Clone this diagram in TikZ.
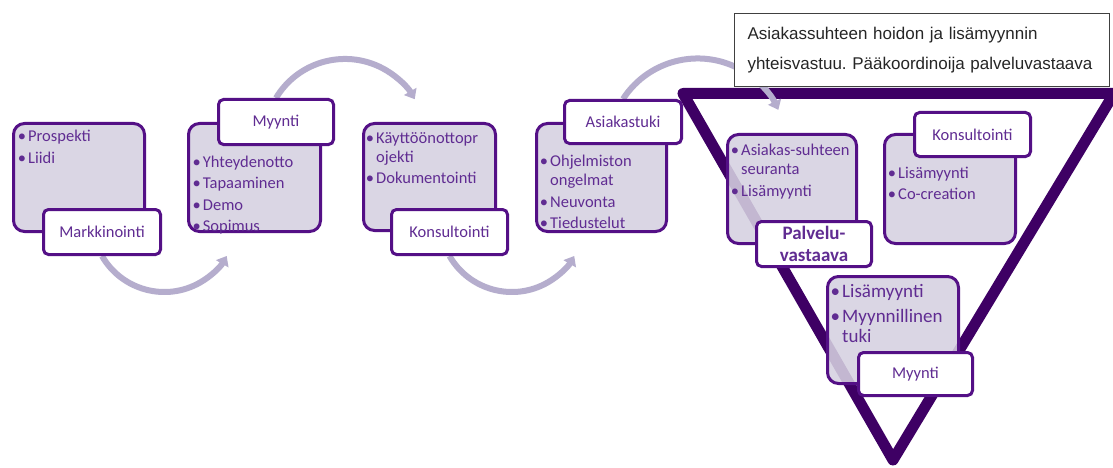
\documentclass[tikz,border=0pt]{standalone}
\usepackage{fontspec}
\setmainfont{Carlito}
\newfontfamily\calloutfont{Liberation Sans}
\usetikzlibrary{arrows.meta,backgrounds}

\definecolor{boxfill}{RGB}{214,209,225}
\definecolor{boxline}{RGB}{84,16,134}
\definecolor{boxtext}{RGB}{96,44,146}
\definecolor{arcline}{RGB}{181,173,205}
\definecolor{funnel}{RGB}{62,0,100}

\newcommand{\itm}[1]{\llap{\textbullet\kern2pt}#1}
\frenchspacing

\tikzset{
  itembox/.style={draw=boxline, line width=3pt, fill=boxfill, fill opacity=0.88,
    draw opacity=1, rounded corners=11pt, inner sep=0pt},
  titlebox/.style={draw=boxline, line width=3pt, fill=white, rounded corners=5pt,
    inner sep=0pt, text=boxtext, font=\fontsize{16.5}{19}\selectfont},
  itemtext/.style={anchor=base west, align=left, inner sep=0pt, text=boxtext,
    font=\fontsize{16.5}{19}\selectfont},
  kierto/.style={draw=arcline, line width=6pt, -{Triangle[length=9pt,width=14pt]}},
  callout/.style={draw=black!75, line width=1pt, fill=white, align=left,
    text width=349pt, inner xsep=13pt, inner ysep=0pt, minimum height=73pt,
    text=black!85, font=\calloutfont\fontsize{17}{30}\selectfont}
}

\begin{document}
\begin{tikzpicture}[x=1pt,y=-1pt]
    \useasboundingbox (0,0) rectangle (1113,468);

    \node[itembox, minimum width=131pt, minimum height=108pt] (mk) at (79,177.5) {};
    \node[itemtext] (mkt) at (28,163.5) {\itm{Prospekti}\\[2.5pt]\itm{Liidi}};
    \node[titlebox, minimum width=117pt, minimum height=45pt] (mkl) at (102,232) {Markkinointi};

    \node[itembox, minimum width=132pt, minimum height=108pt] (my) at (254.5,177.5) {};
    \node[itemtext] (myt) at (202.7,231.5)
      {\itm{Yhteydenotto}\\[2.5pt]\itm{Tapaaminen}\\[2.5pt]\itm{Demo}\\[2.5pt]\itm{Sopimus}};
    \node[titlebox, minimum width=115pt, minimum height=45pt] (myl) at (276,122) {Myynti};

    \node[itembox, minimum width=132pt, minimum height=107pt] (ko) at (429.5,177) {};
    \node[itemtext] (kot) at (376,183.5)
      {\itm{Käyttöönottopr}\\ojekti\\[2.5pt]\itm{Dokumentointi}};
    \node[titlebox, minimum width=116pt, minimum height=45pt] (kol) at (449.5,232) {Konsultointi};

    \node[itembox, minimum width=130pt, minimum height=108pt] (as) at (601.5,177.5) {};
    \node[itemtext] (ast) at (550,228.5)
      {\itm{Ohjelmiston}\\ongelmat\\[2.5pt]\itm{Neuvonta}\\[2.5pt]\itm{Tiedustelut}};
    \node[titlebox, minimum width=117pt, minimum height=43pt] (asl) at (623,122) {Asiakastuki};

    \node[itembox, minimum width=129pt, minimum height=109pt] (pv) at (792,189) {};
    \node[itemtext] (pvt) at (741,196)
      {\itm{Asiakas-suhteen}\\seuranta\\[2.5pt]\itm{Lisämyynti}};
    \node[titlebox, minimum width=115pt, minimum height=45pt, align=center,
      font=\bfseries\fontsize{19}{22}\selectfont] (pvl) at (814,244) {Palvelu-\\vastaava};

    \node[itembox, minimum width=131pt, minimum height=109pt] (ks) at (950,189) {};
    \node[itemtext] (kst) at (898,199.5) {\itm{Lisämyynti}\\[2.5pt]\itm{Co-creation}};
    \node[titlebox, minimum width=116pt, minimum height=44pt] (ksl) at (972.5,134.5) {Konsultointi};

    \node[itembox, minimum width=131pt, minimum height=107pt] (lm) at (893,330) {};
    \node[itemtext, font=\fontsize{19}{20}\selectfont] (lmt) at (842,342.5)
      {\itm{Lisämyynti}\\[5pt]\itm{Myynnillinen}\\tuki};
    \node[titlebox, minimum width=114pt, minimum height=43pt] (lml) at (915.5,374) {Myynti};

    \node[callout, anchor=north west] (vastuu) at (734,13)
      {Asiakassuhteen hoidon ja lisämyynnin\\yhteisvastuu. Pääkoordinoija palveluvastaava};

    \begin{scope}[on background layer]
      \fill[white] (0,0) rectangle (1113,468);
      \draw[draw=funnel, line width=11pt, line join=round]
        (683,93.5) -- (1114,93.5) -- (893,460) -- cycle;
      \draw[kierto] (mkl.south) arc[start angle=150, end angle=30, radius=72];
      \draw[kierto] (myl.north) arc[start angle=211, end angle=330, radius=80.5];
      \draw[kierto] (kol.south) arc[start angle=150, end angle=30, radius=72];
      \draw[kierto] (asl.north) arc[start angle=213, end angle=335, radius=89];
    \end{scope}
\end{tikzpicture}
\end{document}
